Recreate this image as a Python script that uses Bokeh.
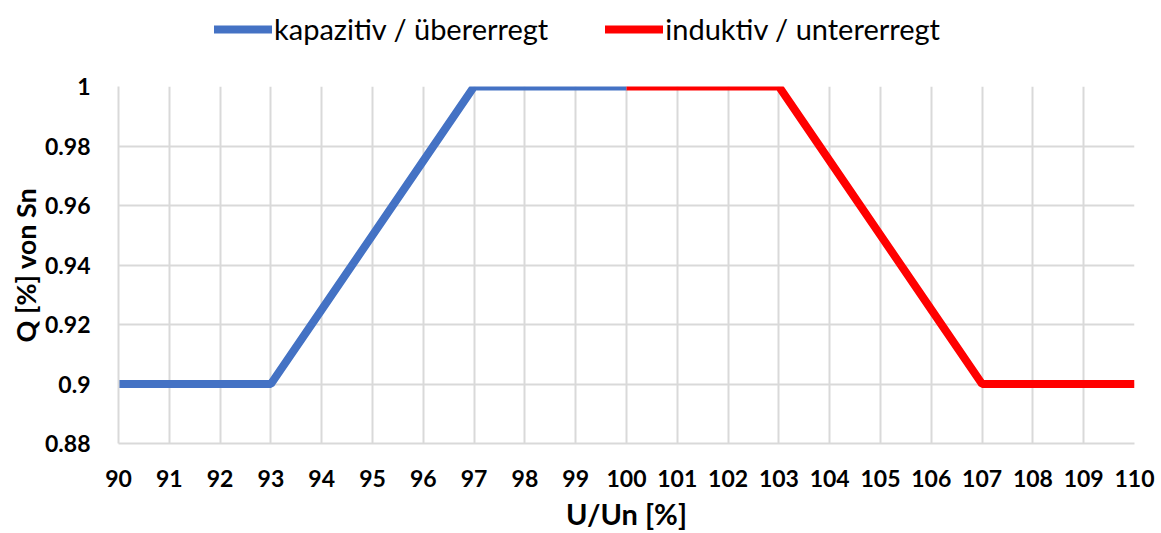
from bokeh.plotting import figure
from bokeh.models import Range1d, FixedTicker, Legend, LegendItem
from bokeh.layouts import column
from bokeh.embed import file_html
from bokeh.resources import INLINE

x_blue = [90, 91, 92, 93, 94, 95, 96, 97, 98, 99, 100]
y_blue = [0.9, 0.9, 0.9, 0.9, 0.925, 0.95, 0.975, 1.0, 1.0, 1.0, 1.0]
x_red = [100, 101, 102, 103, 104, 105, 106, 107, 108, 109, 110]
y_red = [1.0, 1.0, 1.0, 1.0, 0.975, 0.95, 0.925, 0.9, 0.9, 0.9, 0.9]
x_ticks = list(range(90, 111))
y_ticks = [0.88, 0.90, 0.92, 0.94, 0.96, 0.98, 1.0]
y_tick_labels = ["0.88", "0.9", "0.92", "0.94", "0.96", "0.98", "1"]
name_blue = "kapazitiv / übererregt"
name_red = "induktiv / untererregt"
x_title = "U/Un [%]"
y_title = "Q [%] von Sn"

FONT = "Lato"
BLUE = "#4472C4"
RED = "#FF0000"
W = 1161

# legend strip above the chart (series drawn out of view, only the legend is visible)
lf = figure(width=W, height=60, output_backend="svg", toolbar_location=None,
            x_axis_type=None, y_axis_type=None,
            min_border_left=0, min_border_right=0, min_border_top=0, min_border_bottom=0,
            x_range=Range1d(0, 1), y_range=Range1d(0, 1))
lf.outline_line_color = None
lf.xgrid.visible = False
lf.ygrid.visible = False
d1 = lf.line(x_blue, y_blue, line_color=BLUE, line_width=8, line_cap="round")
d2 = lf.line(x_red, y_red, line_color=RED, line_width=8, line_cap="round")
legend = Legend(items=[LegendItem(label=name_blue, renderers=[d1]),
                       LegendItem(label=name_red, renderers=[d2])],
                orientation="horizontal", location=(96, 14),
                label_text_font=FONT, label_text_font_size="29px",
                label_text_color="black",
                glyph_width=58, glyph_height=30, spacing=57, label_standoff=2,
                border_line_color=None, background_fill_alpha=0,
                margin=0, padding=0)
lf.add_layout(legend, "center")

# main chart
p = figure(width=W, height=473, output_backend="svg", toolbar_location=None,
           x_range=Range1d(90, 110), y_range=Range1d(0.88, 1.0),
           min_border_left=118, min_border_right=27, min_border_top=26, min_border_bottom=90)
p.outline_line_color = None
p.background_fill_color = "white"

p.xgrid.ticker = FixedTicker(ticks=x_ticks)
p.ygrid.ticker = FixedTicker(ticks=y_ticks)
p.grid.grid_line_color = "#D9D9D9"
p.grid.grid_line_width = 2

p.line(x_blue, y_blue, line_color=BLUE, line_width=8)
p.line(x_red, y_red, line_color=RED, line_width=8)

for ax in (p.xaxis[0], p.yaxis[0]):
    ax.axis_line_color = "#D9D9D9"
    ax.axis_line_width = 2
    ax.major_tick_line_color = None
    ax.minor_tick_line_color = None
    ax.major_label_text_font = FONT
    ax.major_label_text_font_style = "bold"
    ax.major_label_text_font_size = "23px"
    ax.major_label_text_color = "black"
    ax.axis_label_text_font = FONT
    ax.axis_label_text_font_style = "bold"
    ax.axis_label_text_color = "black"

p.xaxis.axis_label_text_font_size = "29px"
p.yaxis.axis_label_text_font_size = "27px"
p.xaxis.ticker = FixedTicker(ticks=x_ticks)
p.yaxis.ticker = FixedTicker(ticks=y_ticks)
p.yaxis.major_label_overrides = {t: l for t, l in zip(y_ticks, y_tick_labels)}
p.xaxis.axis_label = x_title
p.yaxis.axis_label = y_title
p.xaxis.major_label_standoff = 20
p.yaxis.major_label_standoff = 22
p.xaxis.axis_label_standoff = 6
p.yaxis.axis_label_standoff = 0

layout = column(lf, p, spacing=0)
open("out.html", "w").write(file_html(layout, INLINE))
